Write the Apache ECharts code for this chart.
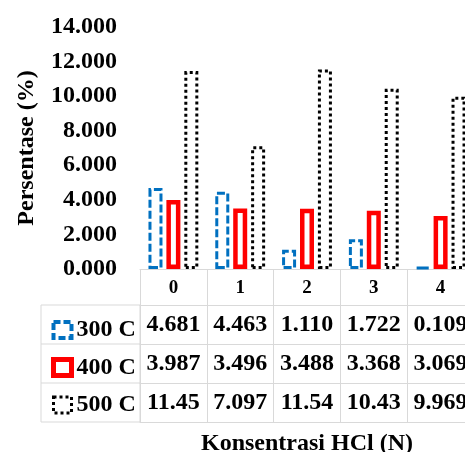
<!DOCTYPE html>
<html>
<head>
<meta charset="utf-8">
<script src="https://cdn.jsdelivr.net/npm/echarts@6/dist/echarts.min.js"></script>
<style>
html,body{margin:0;padding:0;background:#fff;}
#c{width:465px;height:452px;}
</style>
</head>
<body>
<div id="c"></div>
<script>
const categories = ['0', '1', '2', '3', '4'];
const seriesNames = ['300 C', '400 C', '500 C'];
const values300 = [4.681, 4.463, 1.110, 1.722, 0.109];
const values400 = [3.987, 3.496, 3.488, 3.368, 3.069];
const values500 = [11.45, 7.097, 11.54, 10.43, 9.969];
const labels300 = ['4.681', '4.463', '1.110', '1.722', '0.109'];
const labels400 = ['3.987', '3.496', '3.488', '3.368', '3.069'];
const labels500 = ['11.45', '7.097', '11.54', '10.43', '9.969'];
const yTicks = [0, 2, 4, 6, 8, 10, 12, 14];

const FONT = "'Liberation Serif', 'Times New Roman', serif";
const GRAY = '#d9d9d9';
const BLUE = '#0070C0';
const RED = '#FF0000';

const styles = [
  { color: '#fff', borderColor: BLUE, borderWidth: 3, borderType: [8, 3] },
  { color: '#fff', borderColor: RED, borderWidth: 4.5 },
  { color: '#fff', borderColor: '#000', borderWidth: 3, borderType: [3, 3] }
];

function rowAxis(data, offset) {
  return {
    type: 'category', gridIndex: 0, position: 'bottom', offset: offset,
    data: data,
    axisLine: { show: true, lineStyle: { color: GRAY, width: 1 } },
    axisTick: { show: true, interval: 0, length: 39, lineStyle: { color: GRAY, width: 1 } },
    axisLabel: { interval: 0, margin: 8, color: '#000', fontFamily: FONT, fontWeight: 'bold', fontSize: 24, lineHeight: 24, hideOverlap: false },
    splitLine: { show: false }
  };
}

const chart = echarts.init(document.getElementById('c'), null, { renderer: 'canvas' });
chart.setOption({
  backgroundColor: '#fff',
  animation: false,
  grid: { left: 140, top: 27, width: 334, height: 242, containLabel: false, outerBoundsMode: 'none' },
  legend: {
    orient: 'vertical', left: 46, top: 313,
    itemWidth: 18, itemHeight: 16, itemGap: 13.5,
    icon: 'rect',
    textStyle: { color: '#000', fontFamily: FONT, fontWeight: 'bold', fontSize: 24, lineHeight: 24 },
    data: [
      { name: seriesNames[0], itemStyle: { color: '#fff', borderColor: BLUE, borderWidth: 4, borderType: [7, 3] } },
      { name: seriesNames[1], itemStyle: { color: '#fff', borderColor: RED, borderWidth: 5 } },
      { name: seriesNames[2], itemStyle: { color: '#fff', borderColor: '#000', borderWidth: 3, borderType: [3, 3] } }
    ]
  },
  xAxis: [
    {
      type: 'category', gridIndex: 0, position: 'bottom', offset: 0,
      data: categories,
      axisLine: { show: true, lineStyle: { color: GRAY, width: 1 } },
      axisTick: { show: true, interval: 0, length: 36, lineStyle: { color: GRAY, width: 1 } },
      axisLabel: { interval: 0, margin: 10, color: '#000', fontFamily: FONT, fontWeight: 'bold', fontSize: 19, lineHeight: 19 },
      splitLine: { show: false }
    },
    rowAxis(labels300, 36),
    rowAxis(labels400, 75),
    rowAxis(labels500, 114),
    {
      type: 'category', gridIndex: 0, position: 'bottom', offset: 153,
      data: categories,
      axisLine: { show: true, lineStyle: { color: GRAY, width: 1 } },
      axisTick: { show: false },
      axisLabel: { show: false },
      name: 'Konsentrasi HCl (N)', nameLocation: 'middle', nameGap: 10,
      nameTextStyle: { color: '#000', fontFamily: FONT, fontWeight: 'bold', fontSize: 24, lineHeight: 24 }
    }
  ],
  yAxis: {
    type: 'value', min: yTicks[0], max: yTicks[yTicks.length - 1], interval: 2,
    axisLine: { show: false }, axisTick: { show: false }, splitLine: { show: false },
    axisLabel: { margin: 23, color: '#000', fontFamily: FONT, fontWeight: 'bold', fontSize: 24, formatter: v => v.toFixed(3) },
    name: 'Persentase (%)', nameLocation: 'middle', nameGap: 101,
    nameTextStyle: { color: '#000', fontFamily: FONT, fontWeight: 'bold', fontSize: 24, lineHeight: 24 }
  },
  series: [
    { name: seriesNames[0], type: 'bar', xAxisIndex: 0, data: values300, barWidth: 14, barGap: '28%', itemStyle: styles[0] },
    { name: seriesNames[1], type: 'bar', xAxisIndex: 0, data: values400, barWidth: 14, barGap: '28%', itemStyle: styles[1] },
    { name: seriesNames[2], type: 'bar', xAxisIndex: 0, data: values500, barWidth: 14, barGap: '28%', itemStyle: styles[2] }
  ],
  graphic: [
    { type: 'rect', shape: { x: 41, y: 305, width: 99, height: 117 }, style: { fill: 'none', stroke: GRAY, lineWidth: 1 }, silent: true },
    { type: 'line', shape: { x1: 41, y1: 344, x2: 140, y2: 344 }, style: { stroke: GRAY, lineWidth: 1 }, silent: true },
    { type: 'line', shape: { x1: 41, y1: 383, x2: 140, y2: 383 }, style: { stroke: GRAY, lineWidth: 1 }, silent: true }
  ]
});
</script>
</body>
</html>
